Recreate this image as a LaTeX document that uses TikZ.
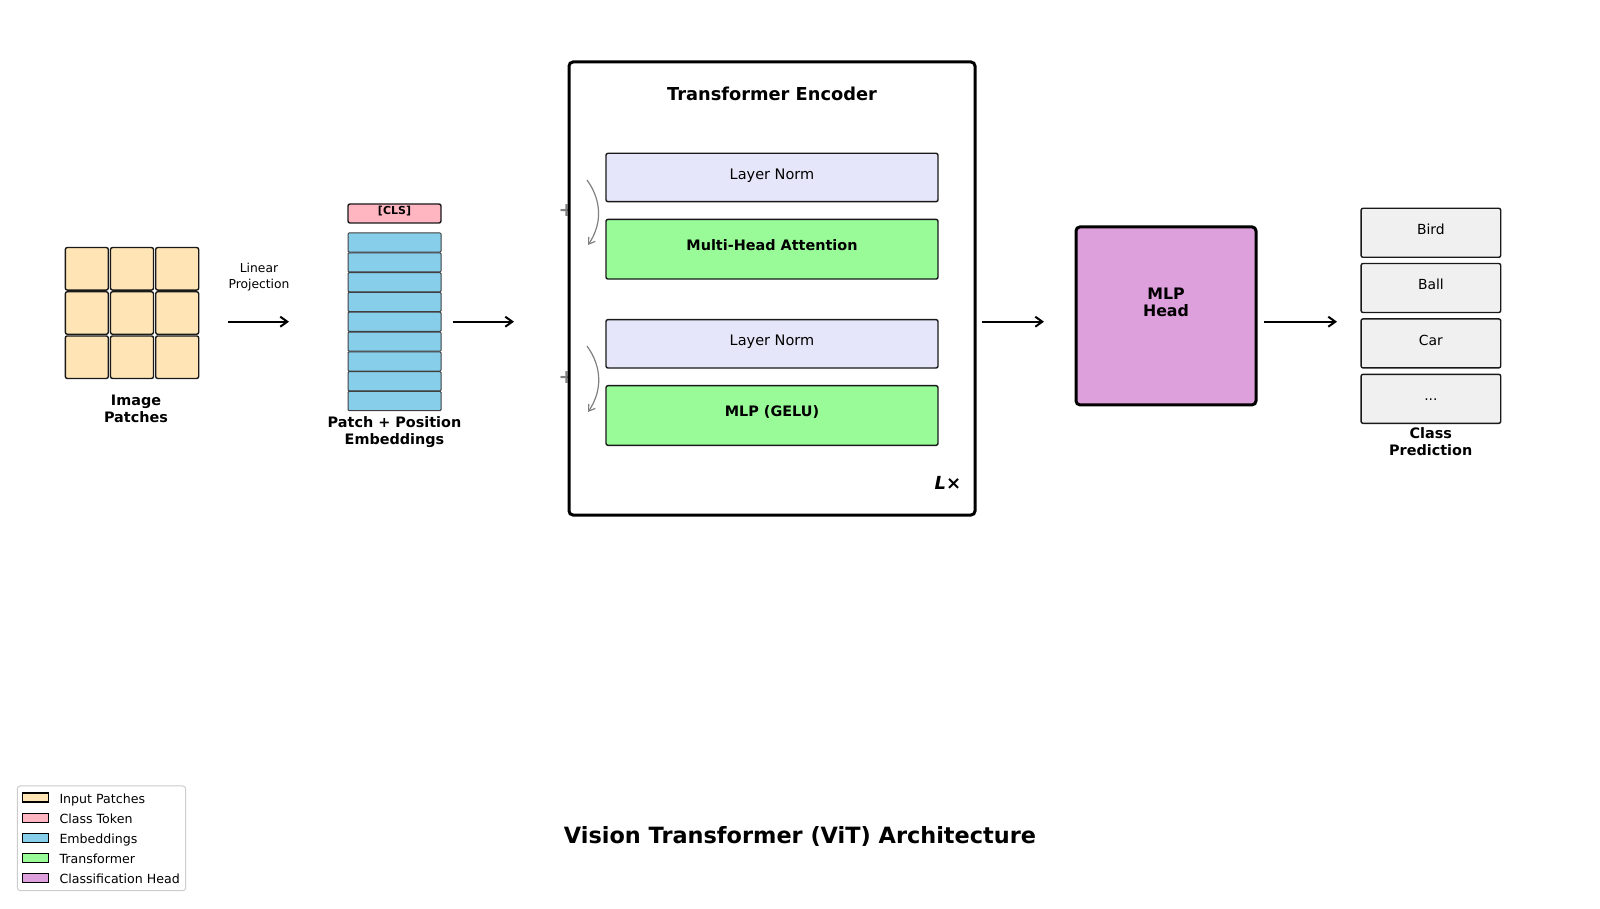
\documentclass[tikz,border=0pt]{standalone}
\usepackage{fontspec}
\setmainfont{DejaVu Sans}
\usetikzlibrary{arrows.meta}
\definecolor{patchc}{HTML}{FFE4B5}
\definecolor{clsc}{HTML}{FFB6C1}
\definecolor{embc}{HTML}{87CEEB}
\definecolor{lnc}{HTML}{E6E6FA}
\definecolor{trc}{HTML}{98FB98}
\definecolor{headc}{HTML}{DDA0DD}
\definecolor{classc}{HTML}{F0F0F0}
\tikzset{
  boxbase/.style={draw=black!90, rounded corners=2pt, inner sep=0pt, line width=1.4pt},
  patchbox/.style={boxbase, fill=patchc, minimum width=43pt, minimum height=42.5pt},
  clsbox/.style={boxbase, fill=clsc, minimum width=93pt, minimum height=19pt},
  embbox/.style={draw=black!75, fill=embc, rounded corners=1pt, inner sep=0pt, line width=1pt, minimum width=93pt, minimum height=19.2pt},
  lnbox/.style={boxbase, fill=lnc, minimum width=332pt, minimum height=48.4pt},
  trbox/.style={boxbase, fill=trc, minimum width=332pt, minimum height=59.7pt},
  headbox/.style={draw=black, fill=headc, rounded corners=4pt, line width=3pt, inner sep=0pt, minimum width=180pt, minimum height=178pt},
  classbox/.style={boxbase, fill=classc, minimum width=139.7pt, minimum height=49pt},
  oneline/.style={text height=0.75em, text depth=0.25em, inner sep=0pt},
  classtext/.style={font=\fontsize{13.9}{16.5}\selectfont, oneline},
  encbox/.style={draw=black, fill=white, rounded corners=4pt, line width=3pt, inner sep=0pt, minimum width=406pt, minimum height=453pt},
  reg14/.style={font=\fontsize{14.5}{17.4}\selectfont, oneline},
  boldone/.style={font=\fontsize{14.4}{17.3}\selectfont\bfseries, oneline},
  bold14/.style={font=\fontsize{14.4}{17.1}\selectfont\bfseries, align=center, inner sep=0pt},
  lbl12/.style={font=\fontsize{12.3}{16}\selectfont, align=center, inner sep=0pt},
  arr/.style={line width=2pt, -{Straight Barb[length=7pt,width=10pt,line width=2pt]}},
  resarr/.style={draw=gray, line width=1.2pt, -{Straight Barb[length=6pt,width=8pt,line width=1.2pt]}},
  swatch/.style={draw=black, line width=1.3pt, inner sep=0pt, minimum width=26pt, minimum height=9pt},
  legtext/.style={font=\fontsize{12.6}{14}\selectfont, anchor=west, oneline}
}
\begin{document}
\begin{tikzpicture}[x=1pt,y=-1pt]
\useasboundingbox (0,0) rectangle (1600,909);
\fill[white] (0,0) rectangle (1600,909);

% image patches
\foreach \r/\yy in {1/268.8,2/313,3/357.2}
  \foreach \c/\xx in {1/86.8,2/132,3/177.2}
    \node[patchbox] (p\r\c) at (\xx,\yy) {};
\node[bold14] (patchlbl) at (136,409) {Image\\Patches};

% linear projection
\node[lbl12] (linproj) at (259,277.5) {Linear\\Projection};
\coordinate (a1s) at (228,321.7);
\coordinate (a1e) at (289,321.7);
\draw[arr] (a1s) -- (a1e);

% embeddings
\node[clsbox] (cls) at (394.5,213.5) {};
\node[font=\fontsize{11}{13}\selectfont\bfseries, oneline] (clstext) at (394.5,212.5) {[CLS]};
\foreach \i in {0,1,2,3,4,5,6,7,8}
  \node[embbox] (e\i) at (394.5,{242.6+\i*19.8}) {};
\node[bold14] (emblbl) at (394.5,432.5) {Patch + Position\\Embeddings};

\coordinate (a2s) at (452.7,321.7);
\coordinate (a2e) at (514,321.7);
\draw[arr] (a2s) -- (a2e);

% plus signs (residual)
\node[text=gray, font=\fontsize{19}{20}\selectfont\bfseries, inner sep=0pt] (plus1) at (566.5,210.7) {+};
\node[text=gray, font=\fontsize{19}{20}\selectfont\bfseries, inner sep=0pt] (plus2) at (566.5,377.3) {+};

% encoder
\node[encbox] (enc) at (772,288.5) {};
\node[font=\fontsize{17.8}{20}\selectfont\bfseries, oneline] (enctitle) at (772,98) {Transformer Encoder};

\node[lnbox] (ln1) at (772,177.5) {};
\node[reg14] (ln1t) at (772,177.5) {Layer Norm};
\node[trbox] (mha) at (772,249.2) {};
\node[boldone] (mhat) at (772,248.5) {Multi-Head Attention};
\node[lnbox] (ln2) at (772,343.8) {};
\node[reg14] (ln2t) at (772,342.8) {Layer Norm};
\node[trbox] (mlp) at (772,415.5) {};
\node[boldone] (mlpt) at (772,414) {MLP (GELU)};

\coordinate (r1s) at (587,180);
\coordinate (r1e) at (588,245);
\draw[resarr] (r1s) to[bend left=35] (r1e);
\coordinate (r2s) at (587,346);
\coordinate (r2e) at (588,412);
\draw[resarr] (r2s) to[bend left=35] (r2e);

\node[font=\fontsize{18}{20}\selectfont\bfseries\itshape, oneline] (lx) at (948,486.5) {L×};

\coordinate (a3s) at (982,321.7);
\coordinate (a3e) at (1044,321.7);
\draw[arr] (a3s) -- (a3e);

% MLP head
\node[headbox] (head) at (1166,315.9) {};
\node[font=\fontsize{15.8}{17.3}\selectfont\bfseries, align=center, inner sep=0pt] (headt) at (1166,302.5) {MLP\\Head};

\coordinate (a4s) at (1264,321.7);
\coordinate (a4e) at (1337,321.7);
\draw[arr] (a4s) -- (a4e);

% classes
\node[classbox] (c1) at (1430.9,232.8) {};
\node[classtext] (c1t) at (1430.9,232.5) {Bird};
\node[classbox] (c2) at (1430.9,288) {};
\node[classtext] (c2t) at (1430.9,287.2) {Ball};
\node[classbox] (c3) at (1430.9,343.4) {};
\node[classtext] (c3t) at (1430.9,342.6) {Car};
\node[classbox] (c4) at (1430.9,398.8) {};
\node[classtext] (c4t) at (1430.9,398) {...};
\node[bold14] (classlbl) at (1430.7,441.5) {Class\\Prediction};

% title
\node[font=\fontsize{22.4}{26}\selectfont\bfseries, oneline] (title) at (800,840.5) {Vision Transformer (ViT) Architecture};

% legend
\node[draw=black!20, fill=white, rounded corners=3pt, line width=1pt, inner sep=0pt, minimum width=168.4pt, minimum height=104.7pt] (legend) at (101.5,838.3) {};
\node[swatch, fill=patchc] (sw0) at (35.8,797.5) {};
\node[legtext] (lt0) at (59.3,800.5) {Input Patches};
\node[swatch, fill=clsc] (sw1) at (35.8,817.7) {};
\node[legtext] (lt1) at (59.3,820.7) {Class Token};
\node[swatch, fill=embc] (sw2) at (35.8,837.9) {};
\node[legtext] (lt2) at (59.3,840.9) {Embeddings};
\node[swatch, fill=trc] (sw3) at (35.8,858.1) {};
\node[legtext] (lt3) at (59.3,861.1) {Transformer};
\node[swatch, fill=headc] (sw4) at (35.8,878.3) {};
\node[legtext] (lt4) at (59.3,881.3) {Classification Head};
\end{tikzpicture}
\end{document}
